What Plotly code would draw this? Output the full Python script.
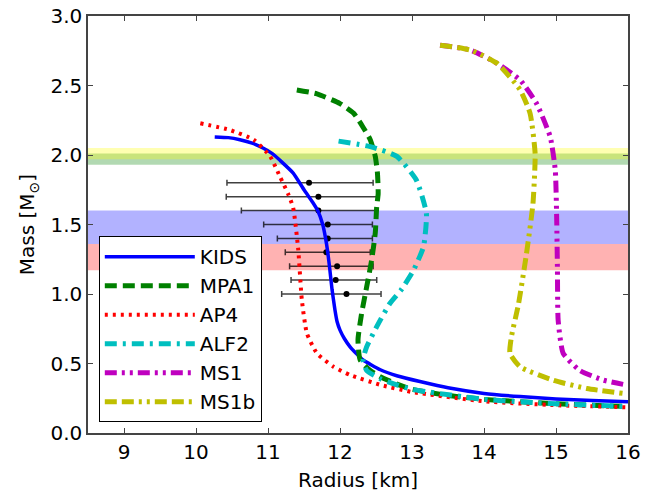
import plotly.graph_objects as go

# ---- data ----
kids_r = [10.26, 10.45, 10.61, 10.78, 10.93, 11.06, 11.17, 11.35, 11.50, 11.62, 11.69, 11.76, 11.80, 11.83, 11.86,
          11.89, 11.93, 11.96, 12.00, 12.06, 12.14, 12.23, 12.32, 12.56, 12.80, 13.11, 13.5, 14.0, 14.5, 15.0,
          15.5, 16.0]
kids_m = [2.13, 2.125, 2.11, 2.085, 2.05, 2.01, 1.96, 1.87, 1.75, 1.66, 1.60, 1.50, 1.40, 1.30, 1.17,
          1.03, 0.885, 0.80, 0.74, 0.68, 0.62, 0.57, 0.525, 0.455, 0.41, 0.37, 0.325, 0.285, 0.262, 0.245,
          0.233, 0.225]

mpa1_r = [11.40, 11.68, 12.00, 12.19, 12.32, 12.42, 12.49, 12.52, 12.53, 12.51, 12.49, 12.44, 12.37, 12.30,
          12.25, 12.28, 12.42, 12.56, 12.80, 13.0, 13.5, 14.0, 15.0, 16.0]
mpa1_m = [2.468, 2.44, 2.37, 2.30, 2.20, 2.11, 1.99, 1.87, 1.72, 1.63, 1.44, 1.245, 1.05, 0.86,
          0.67, 0.525, 0.45, 0.405, 0.35, 0.315, 0.27, 0.242, 0.21, 0.19]

ap4_r = [10.06, 10.47, 10.80, 11.03, 11.17, 11.28, 11.35, 11.42, 11.47, 11.54, 11.68, 11.91, 12.14,
         12.57, 13.0, 14.0, 15.0, 16.0]
ap4_m = [2.228, 2.18, 2.11, 1.99, 1.84, 1.72, 1.62, 1.32, 0.957, 0.717, 0.573, 0.477, 0.417,
         0.345, 0.295, 0.228, 0.20, 0.185]

alf2_r = [11.98, 12.42, 12.79, 13.06, 13.20, 13.16, 13.02, 12.85, 12.69, 12.51, 12.37, 12.32, 12.37,
          12.56, 12.80, 13.0, 14.0, 15.0, 16.0]
alf2_m = [2.10, 2.06, 1.99, 1.82, 1.58, 1.34, 1.17, 1.03, 0.93, 0.765, 0.62, 0.525, 0.45,
          0.39, 0.345, 0.314, 0.242, 0.21, 0.19]

ms1_r = [13.39, 13.81, 14.18, 14.50, 14.73, 14.92, 14.99, 15.01, 15.02, 15.03, 15.10, 15.33, 15.66, 15.98]
ms1_m = [2.79, 2.755, 2.66, 2.54, 2.37, 2.13, 1.89, 1.53, 1.17, 0.81, 0.573, 0.45, 0.38, 0.345]

ms1b_r = [13.39, 13.81, 14.18, 14.50, 14.64, 14.71, 14.68, 14.59, 14.48, 14.38, 14.36, 14.50, 14.96, 15.43, 15.93]
ms1b_m = [2.79, 2.755, 2.66, 2.47, 2.30, 2.01, 1.65, 1.29, 0.93, 0.69, 0.573, 0.477, 0.38, 0.32, 0.285]

# measurements with asymmetric radius errors
obs_m = [1.8, 1.7, 1.6, 1.5, 1.4, 1.3, 1.2, 1.1, 1.0]
obs_r = [11.57, 11.70, 11.70, 11.83, 11.83, 11.81, 11.96, 11.94, 12.09]
obs_r_lo = [10.43, 10.42, 10.63, 10.94, 11.13, 11.24, 11.30, 11.32, 11.19]
obs_r_hi = [12.46, 12.52, 12.50, 12.45, 12.45, 12.42, 12.46, 12.51, 12.57]

# horizontal mass bands (low, high)
band_green = (1.93, 2.01)
band_yellow = (1.97, 2.05)
band_blue = (1.36, 1.60)
band_red = (1.17, 1.36)

fig = go.Figure()

for (lo, hi), col in [(band_blue, "rgba(0,0,255,0.3)"), (band_red, "rgba(255,0,0,0.3)"),
                      (band_green, "rgba(0,128,0,0.3)"), (band_yellow, "rgba(255,255,0,0.3)")]:
    fig.add_hrect(y0=lo, y1=hi, fillcolor=col, line_width=0, layer="below")

fig.add_trace(go.Scatter(
    x=obs_r, y=obs_m, mode="markers", showlegend=False,
    marker=dict(color="black", size=6),
    error_x=dict(type="data", symmetric=False,
                 array=[h - c for h, c in zip(obs_r_hi, obs_r)],
                 arrayminus=[c - l for c, l in zip(obs_r, obs_r_lo)],
                 color="rgba(0,0,0,0.75)", thickness=1.5, width=3)))

curves = [
    ("KIDS", kids_r, kids_m, "#0000ff", "solid", 3.5),
    ("MPA1", mpa1_r, mpa1_m, "#008000", "12px,6px", 5),
    ("AP4", ap4_r, ap4_m, "#ff0000", "3px,5px", 4),
    ("ALF2", alf2_r, alf2_m, "#00bfbf", "12px,6px,3px,6px", 5),
    ("MS1", ms1_r, ms1_m, "#bf00bf", "12px,5px,3px,5px,3px,5px", 5),
    ("MS1b", ms1b_r, ms1b_m, "#bfbf00", "12px,5px,12px,5px,3px,5px,3px,5px", 5),
]
for i, (name, r, m, col, dash, w) in enumerate(curves):
    fig.add_trace(go.Scatter(x=r, y=m, mode="lines", name=name, legendgroup=str(i),
                             line=dict(color=col, dash=dash, width=w, shape="spline", smoothing=0.5)))

axis_common = dict(showline=True, mirror="ticks", linecolor="#444", linewidth=1.5,
                   ticks="inside", ticklen=5, tickcolor="#444", showgrid=False, zeroline=False,
                   automargin=False, tickfont=dict(size=20, color="black"))
fig.update_xaxes(range=[8.5, 16], dtick=1, tick0=9,
                 title=dict(text="Radius [km]", font=dict(size=20, color="black"), standoff=10),
                 **axis_common)
fig.update_yaxes(range=[0, 3], dtick=0.5, tickformat=".1f",
                 title=dict(text="Mass [M<sub>⊙</sub>]", font=dict(size=20, color="black"), standoff=10),
                 **axis_common)

fig.update_layout(
    width=672, height=495,
    margin=dict(l=88, r=44, t=16, b=62),
    plot_bgcolor="white", paper_bgcolor="white",
    font=dict(family="DejaVu Sans", color="black"),
    legend=dict(x=0.02, y=0.026, xanchor="left", yanchor="bottom",
                bordercolor="black", borderwidth=1, bgcolor="white",
                font=dict(size=20), itemwidth=90, tracegroupgap=0),
)

fig.write_html("out.html")
